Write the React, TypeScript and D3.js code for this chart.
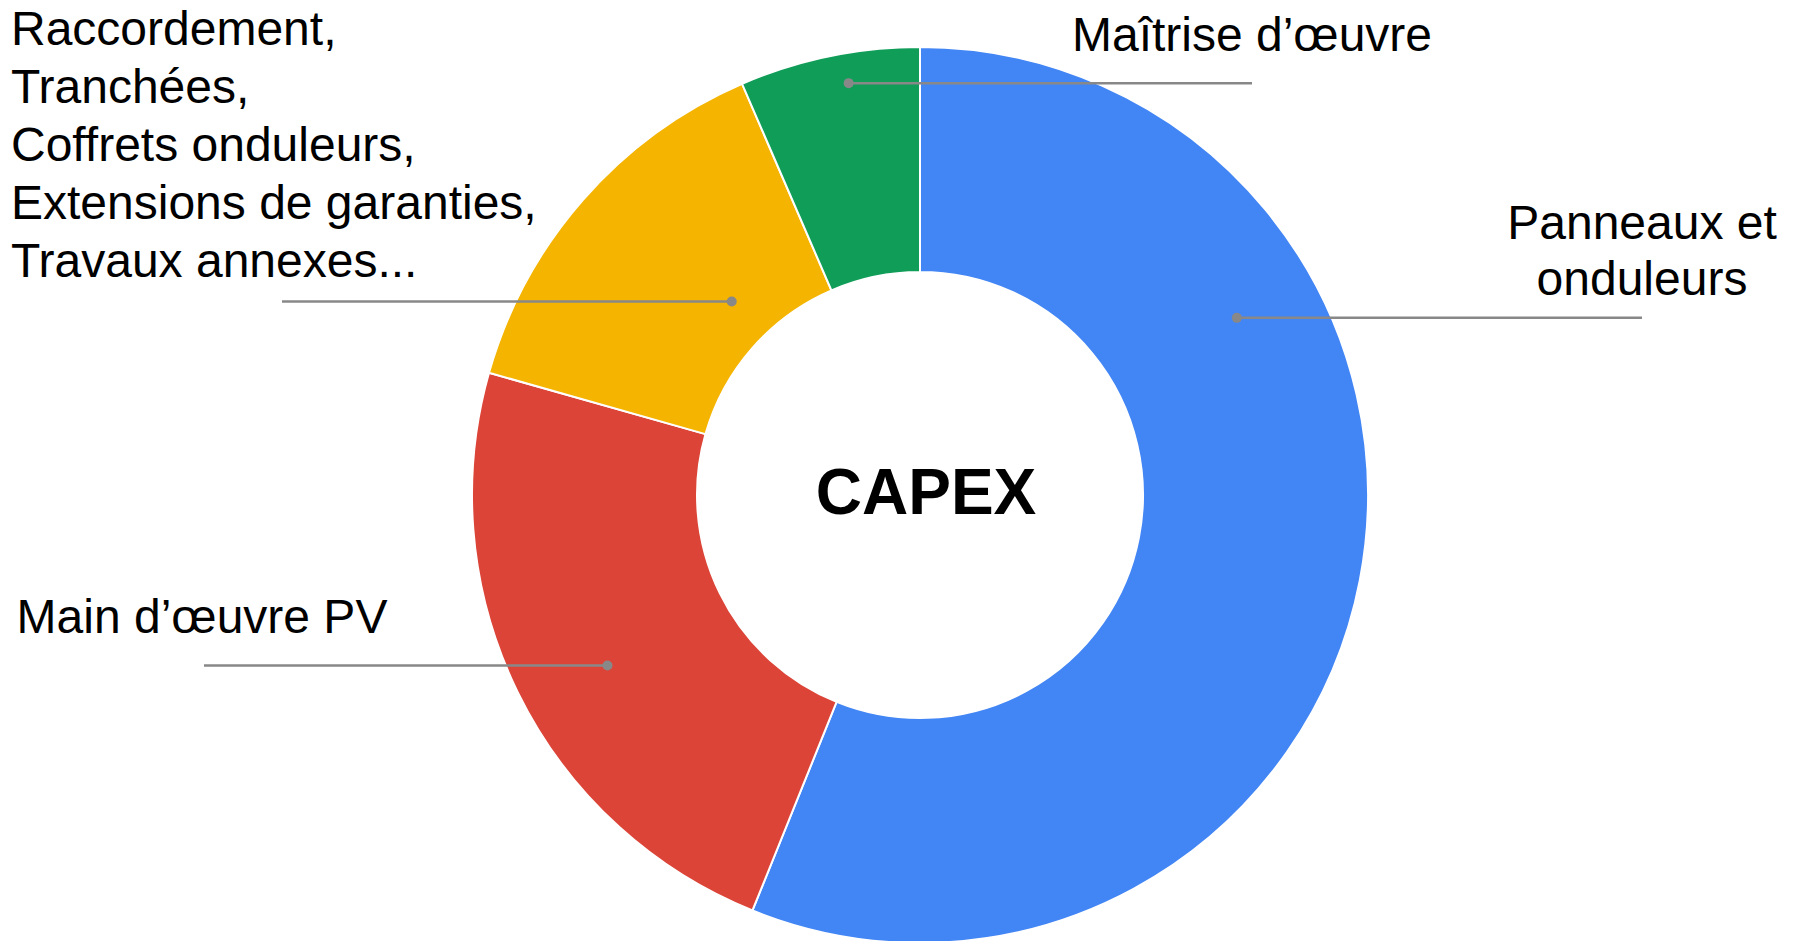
import * as d3 from 'd3';
import { useEffect, useRef } from 'react';

// slices, clockwise from 12 o'clock
const categories = [
  'Panneaux et onduleurs',
  'Main d’œuvre PV',
  'Raccordement, Tranchées, Coffrets onduleurs, Extensions de garanties, Travaux annexes...',
  'Maîtrise d’œuvre',
];
const shares = [56.1, 23.3, 14.1, 6.5];
const labelLines = [
  ['Panneaux et', 'onduleurs'],
  ['Main d’œuvre PV'],
  ['Raccordement,', 'Tranchées,', 'Coffrets onduleurs,', 'Extensions de garanties,', 'Travaux annexes...'],
  ['Maîtrise d’œuvre'],
];
const colors = ['#4285f4', '#db4437', '#f4b400', '#0f9d58'];
const centerTitle = 'CAPEX';

const width = 1797;
const height = 941;
const cx = 920;
const cy = 495;
const outerR = 448;
const innerR = 223;
const font = 'Arial, "Liberation Sans", sans-serif';

// leader line: dot at fraction t of the slice angle, radius r; label placement
const leaders = [
  { t: 0.301, r: 363, endX: 1642, anchor: 'middle', textX: 1642, baseline: 239, lineH: 56 },
  { t: 0.47, r: 356, endX: 204, anchor: 'middle', textX: 202, baseline: 633, lineH: 57 },
  { t: 0.59, r: 270, endX: 282, anchor: 'start', textX: 11, baseline: 45, lineH: 58 },
  { t: 0.58, r: 418, endX: 1252, anchor: 'middle', textX: 1252, baseline: 51, lineH: 57 },
];

export default function App() {
  const svgRef = useRef<SVGSVGElement>(null);

  useEffect(() => {
    const svg = d3.select(svgRef.current).attr('width', width).attr('height', height);
    svg.selectAll('*').remove();

    svg.append('rect').attr('width', width).attr('height', height).attr('fill', '#fff');

    const pie = d3.pie<number>().sort(null).value(d => d);
    const pieData = pie(shares);

    const arc = d3.arc<d3.PieArcDatum<number>>().innerRadius(innerR).outerRadius(outerR);

    const g = svg.append('g').attr('transform', `translate(${cx}, ${cy})`);

    g.selectAll('path.slice')
      .data(pieData)
      .enter()
      .append('path')
      .attr('class', 'slice')
      .attr('d', arc)
      .attr('fill', (d, i) => colors[i])
      .attr('stroke', '#fff')
      .attr('stroke-width', 2);

    // leader lines + dots
    pieData.forEach((d, i) => {
      const l = leaders[i];
      const a = d.startAngle + l.t * (d.endAngle - d.startAngle);
      const x = l.r * Math.sin(a);
      const y = -l.r * Math.cos(a);
      g.append('line')
        .attr('x1', x)
        .attr('y1', y)
        .attr('x2', l.endX - cx)
        .attr('y2', y)
        .attr('stroke', '#888')
        .attr('stroke-width', 2.5);
      g.append('circle').attr('cx', x).attr('cy', y).attr('r', 5).attr('fill', '#888');
    });

    // labels
    labelLines.forEach((lines, i) => {
      const l = leaders[i];
      const t = svg
        .append('text')
        .attr('font-family', font)
        .attr('font-size', 48)
        .attr('fill', '#000')
        .attr('text-anchor', l.anchor);
      lines.forEach((line, j) => {
        t.append('tspan')
          .attr('x', l.textX)
          .attr('y', l.baseline + j * l.lineH)
          .text(line);
      });
    });

    svg.append('text')
      .attr('x', cx + 6)
      .attr('y', 514)
      .attr('text-anchor', 'middle')
      .attr('font-family', font)
      .attr('font-weight', 'bold')
      .attr('font-size', 64)
      .attr('fill', '#000')
      .text(centerTitle);
  }, []);

  return (
    <svg
      ref={svgRef}
      aria-label={categories.join(' / ')}
      style={{ position: 'absolute', left: 0, top: 0, display: 'block' }}
    />
  );
}
